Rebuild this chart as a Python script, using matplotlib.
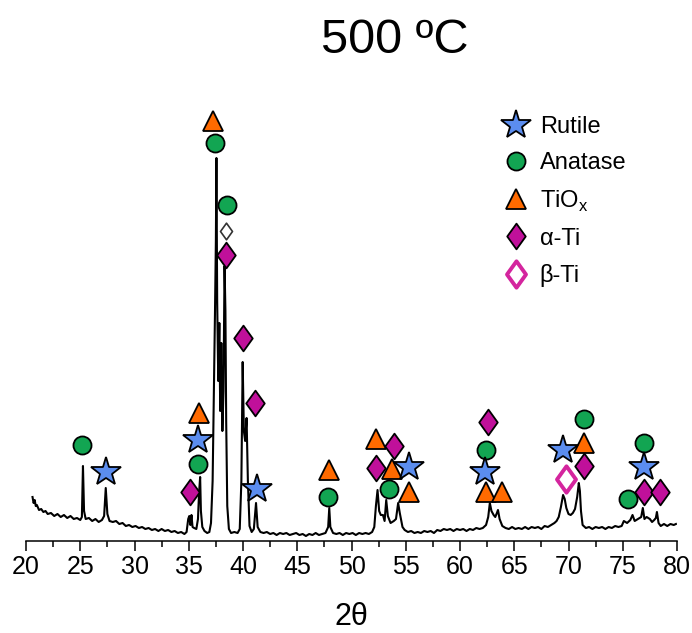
import matplotlib
matplotlib.use("Agg")
import matplotlib.pyplot as plt
from matplotlib.path import Path
from matplotlib.lines import Line2D

plt.rcParams['font.family'] = ['Liberation Sans', 'DejaVu Sans']
plt.rcParams['mathtext.fontset'] = 'custom'
plt.rcParams['mathtext.rm'] = 'Liberation Sans'

# ---- XRD pattern (2theta in degrees, intensity in a.u.) ----
two_theta = [
    20.6, 20.7, 20.8, 20.9, 21.0, 21.2, 21.4, 21.6, 21.8, 22.0, 22.3, 22.6, 22.9,
    23.2, 23.5, 23.8, 24.1, 24.4, 24.7, 25.0, 25.15, 25.25, 25.35, 25.5, 25.8,
    26.1, 26.4, 26.7, 27.0, 27.2, 27.35, 27.5, 27.7, 28.0, 28.3, 28.6, 28.9,
    29.2, 29.5, 29.8, 30.1, 30.4, 30.7, 31.0, 31.3, 31.6, 31.9, 32.2, 32.5,
    32.8, 33.1, 33.4, 33.7, 34.0, 34.3, 34.6, 34.8, 34.95, 35.05, 35.15, 35.25,
    35.35, 35.5, 35.7, 35.85, 35.95, 36.05, 36.12, 36.25, 36.45, 36.7, 36.9,
    37.05, 37.2, 37.32, 37.42, 37.5, 37.55, 37.62, 37.72, 37.82, 37.9, 38.0,
    38.1, 38.2, 38.3, 38.38, 38.45, 38.55, 38.7, 38.9, 39.2, 39.5, 39.7, 39.85,
    39.97, 40.08, 40.2, 40.33, 40.45, 40.6, 40.8, 41.0, 41.2, 41.35, 41.6, 41.9,
    42.2, 42.5, 42.8, 43.1, 43.4, 43.7, 44.0, 44.3, 44.6, 44.9, 45.2, 45.5,
    45.8, 46.1, 46.4, 46.7, 47.0, 47.3, 47.6, 47.85, 47.95, 48.05, 48.3, 48.6,
    48.9, 49.2, 49.5, 49.8, 50.1, 50.4, 50.7, 51.0, 51.3, 51.6, 51.9, 52.1,
    52.25, 52.4, 52.55, 52.7, 52.9, 53.05, 53.2, 53.35, 53.6, 53.9, 54.1, 54.3,
    54.45, 54.7, 54.9, 55.2, 55.5, 55.8, 56.1, 56.4, 56.7, 57.0, 57.3, 57.6,
    57.9, 58.2, 58.5, 58.8, 59.1, 59.4, 59.7, 60.0, 60.3, 60.6, 60.9, 61.2,
    61.5, 61.8, 62.1, 62.4, 62.6, 62.75, 62.9, 63.1, 63.25, 63.4, 63.5, 63.65,
    63.9, 64.2, 64.5, 64.8, 65.1, 65.4, 65.7, 66.0, 66.3, 66.6, 66.9, 67.2,
    67.5, 67.8, 68.1, 68.4, 68.7, 68.9, 69.1, 69.3, 69.5, 69.65, 69.8, 70.0,
    70.2, 70.4, 70.6, 70.8, 70.95, 71.05, 71.15, 71.3, 71.6, 71.9, 72.2, 72.5,
    72.8, 73.1, 73.4, 73.7, 74.0, 74.3, 74.6, 74.9, 75.1, 75.4, 75.7, 75.9,
    76.1, 76.4, 76.7, 76.85, 77.0, 77.2, 77.5, 77.7, 77.9, 78.05, 78.15, 78.3,
    78.5, 78.8, 79.1, 79.4, 79.7, 79.9,
]
intensity = [
    44, 38, 41, 35, 36, 31, 32, 29, 30, 27, 28, 25, 27,
    24, 26, 23, 25, 22, 23, 21, 24, 75, 30, 22, 23,
    20, 22, 19, 21, 25, 53, 27, 20, 19, 20, 17, 18,
    15, 16, 14, 15, 13, 14, 12, 13, 11, 12, 10, 12,
    10, 11, 9, 10, 8, 9, 7, 9, 22, 25, 16, 26,
    14, 13, 12, 22, 48, 64, 30, 14, 10, 8, 9,
    18, 60, 150, 230, 300, 383, 240, 160, 218, 130, 198,
    110, 150, 275, 230, 120, 35, 12, 8, 9, 8, 12, 60,
    179, 110, 100, 123, 60, 15, 9, 12, 38, 14, 9, 8,
    9, 7, 8, 6, 8, 7, 8, 6, 7, 8, 6, 7,
    5, 7, 6, 8, 6, 7, 8, 14, 33, 14, 8, 7,
    8, 6, 8, 7, 8, 6, 8, 7, 8, 7, 9, 14,
    35, 51, 30, 26, 26, 20, 41, 25, 18, 20, 22, 38,
    28, 14, 11, 9, 10, 8, 9, 8, 10, 9, 10, 8,
    11, 10, 12, 11, 12, 10, 12, 11, 12, 10, 12, 11,
    13, 12, 13, 16, 24, 38, 30, 26, 24, 28, 31, 22,
    15, 13, 12, 14, 12, 13, 12, 14, 12, 14, 13, 14,
    12, 15, 14, 16, 18, 20, 24, 34, 46, 42, 33, 27,
    26, 28, 32, 44, 58, 50, 30, 16, 13, 14, 12, 14,
    13, 14, 12, 14, 13, 15, 14, 15, 20, 18, 21, 26,
    20, 22, 24, 33, 22, 24, 22, 19, 21, 23, 29, 18,
    15, 17, 15, 17, 16, 17,
]

# ---- phase markers (2theta, intensity) ----
rutile_x = [27.37, 35.88, 41.33, 55.3, 62.3, 69.46, 76.96]
rutile_y = [69, 101, 52, 74, 69, 91, 74]

anatase_x = [25.19, 35.88, 37.42, 38.55, 47.8, 53.49, 62.4, 71.46, 75.46, 76.96]
anatase_y = [96, 77, 398, 336, 44, 52, 91, 122, 42, 98]

tiox_x = [37.26, 35.97, 47.93, 52.23, 53.7, 55.3, 62.37, 63.84, 71.43]
tiox_y = [420, 128, 71, 102, 72, 49, 49, 49, 98]

alpha_x = [35.12, 38.43, 40.03, 41.1, 52.23, 53.94, 62.55, 71.46, 76.96, 78.43]
alpha_y = [49, 286, 203, 138, 73, 95, 119, 75, 49, 49]

beta_x = [69.77]
beta_y = [62]

minor_x = [38.43]
minor_y = [310]

phase_labels = ['Rutile', 'Anatase', r'TiO$_{\mathregular{x}}$', 'α-Ti', 'β-Ti']
x_ticks = [20, 25, 30, 35, 40, 45, 50, 55, 60, 65, 70, 75, 80]

# ---- styles ----
c_rutile = '#5B8DEF'
c_anatase = '#12A552'
c_tiox = '#FF6A00'
c_alpha = '#C0109A'
c_beta = '#D4259E'
diamond = Path([(0, 1), (0.72, 0), (0, -1), (-0.72, 0), (0, 1)],
               [Path.MOVETO, Path.LINETO, Path.LINETO, Path.LINETO, Path.CLOSEPOLY])

W, H = 692, 633
fig = plt.figure(figsize=(W / 100, H / 100), dpi=100)
ax = fig.add_axes([26 / W, (H - 541) / H, (677 - 26) / W, (541 - 60) / H])

ax.plot(two_theta, intensity, color='black', lw=1.5, zorder=2)

common = dict(linestyle='none', markeredgecolor='black', markeredgewidth=1.3, zorder=4, clip_on=False)
ax.plot(anatase_x, anatase_y, marker='o', ms=13, markerfacecolor=c_anatase, **common)
ax.plot(tiox_x, tiox_y, marker='^', ms=15, markerfacecolor=c_tiox, **common)
ax.plot(alpha_x, alpha_y, marker=diamond, ms=18.5, markerfacecolor=c_alpha, **common)
ax.plot(rutile_x, rutile_y, marker='*', ms=22, markerfacecolor=c_rutile, **common)
ax.plot(beta_x, beta_y, linestyle='none', marker=diamond, ms=19, markerfacecolor='white',
        markeredgecolor=c_beta, markeredgewidth=2.8, zorder=4)
ax.plot(minor_x, minor_y, linestyle='none', marker=diamond, ms=12, markerfacecolor='white',
        markeredgecolor='#333333', markeredgewidth=1.2, zorder=4)

ax.set_xlim(20, 80)
ax.set_ylim(0, 481)
ax.set_xticks(x_ticks)
ax.set_xticklabels([str(t) for t in x_ticks])
ax.set_xticks([t + 2.5 for t in x_ticks[:-1]], minor=True)
ax.tick_params(axis='x', which='major', length=7.2, width=1.1, direction='out', labelsize=18, pad=3)
ax.tick_params(axis='x', which='minor', length=4.2, width=1.1, direction='out')
ax.set_yticks([])
for s in ('left', 'right', 'top'):
    ax.spines[s].set_visible(False)
ax.spines['bottom'].set_linewidth(1.1)

fig.text(395 / W, 1 - 53 / H, '500 ºC', fontsize=35, ha='center', va='baseline')
fig.text(351 / W, 1 - 625 / H, '2θ', fontsize=22, ha='center', va='baseline')

handles = [
    Line2D([], [], linestyle='none', marker='*', ms=22, markerfacecolor=c_rutile, markeredgecolor='black', markeredgewidth=1.3),
    Line2D([], [], linestyle='none', marker='o', ms=13, markerfacecolor=c_anatase, markeredgecolor='black', markeredgewidth=1.3),
    Line2D([], [], linestyle='none', marker='^', ms=15, markerfacecolor=c_tiox, markeredgecolor='black', markeredgewidth=1.3),
    Line2D([], [], linestyle='none', marker=diamond, ms=18.5, markerfacecolor=c_alpha, markeredgecolor='black', markeredgewidth=1.3),
    Line2D([], [], linestyle='none', marker=diamond, ms=19, markerfacecolor='white', markeredgecolor=c_beta, markeredgewidth=2.8),
]
fig.legend(handles, phase_labels, loc='upper left', bbox_to_anchor=(502 / W, 1 - 116 / H),
           frameon=False, fontsize=17, handlelength=1.2, handletextpad=0.4,
           labelspacing=0.6, borderpad=0, borderaxespad=0)

fig.savefig('out.png', dpi=100)
